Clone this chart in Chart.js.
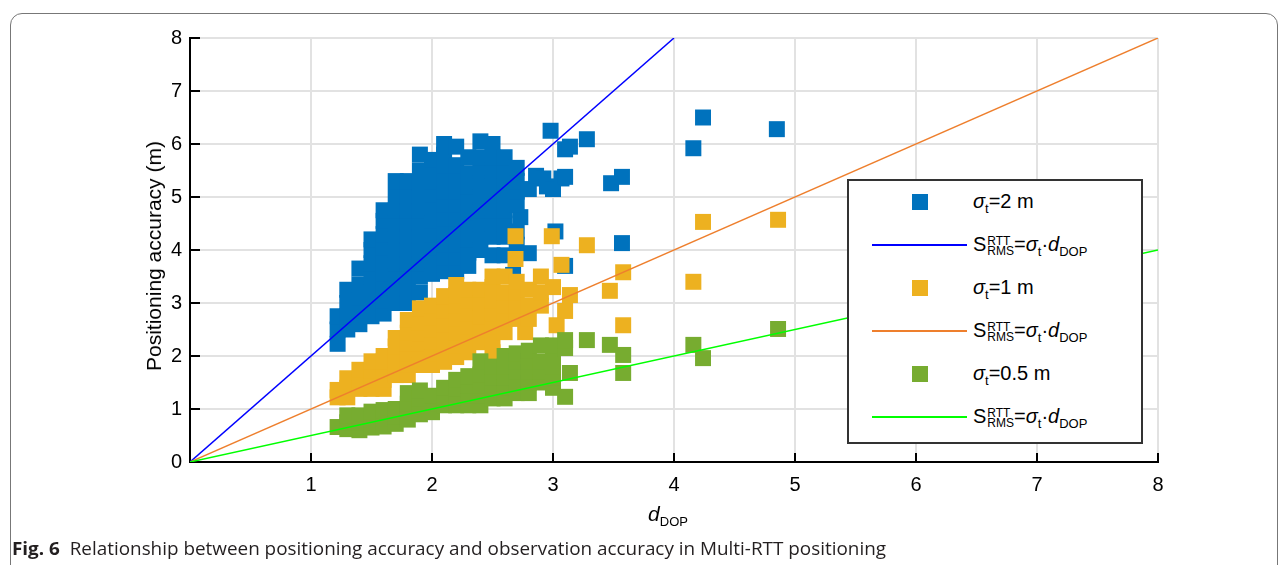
<!DOCTYPE html>
<html>
<head>
<meta charset="utf-8">
<script src="https://cdn.jsdelivr.net/npm/chart.js@4.4.1/dist/chart.umd.min.js"></script>
<style>
  html, body { margin: 0; padding: 0; background: #fff; }
  #page { position: relative; width: 1287px; height: 565px; overflow: hidden; font-family: "Liberation Sans", Arial, sans-serif; color: #000; }
  #frame { position: absolute; left: 10px; top: 13px; width: 1268px; height: 700px; border: 1.5px solid #777; border-radius: 12px; box-sizing: border-box; }
  #c { position: absolute; left: 0; top: 0; }
  .sub { font-size: 13px; vertical-align: -5px; font-style: normal; }
  .stack { display: inline-block; font-size: 12px; line-height: 10px; vertical-align: -4px; margin-left: 1px; }
  .stack span { display: block; }
  #legend { position: absolute; left: 847px; top: 179px; width: 296px; height: 265px; border: 2px solid #333; box-sizing: border-box; background: #fff; }
  #legend .mk { position: absolute; left: 63px; width: 16px; height: 16px; }
  #legend .ln { position: absolute; left: 23px; width: 95px; height: 2px; }
  #legend .lbl { position: absolute; left: 124px; font-size: 20px; line-height: 1; white-space: nowrap; }
  #ytitle { position: absolute; left: 154px; top: 256px; transform: translate(-50%, -50%) rotate(-90deg); font-size: 21px; white-space: nowrap; }
  #xtitle { position: absolute; left: 668px; top: 515px; transform: translate(-50%, -50%); font-size: 21px; white-space: nowrap; line-height: 1; }
  #caption { position: absolute; left: 12px; top: 549px; transform-origin: 0 50%; font-family: "Open Sans", sans-serif; font-size: 17.5px; white-space: nowrap; color: #231f20; line-height: 1; }
  #caption b { font-weight: 700; }
</style>
</head>
<body>
<div id="page">
  <div id="frame"></div>
  <canvas id="c" width="1287" height="565"></canvas>
  <div id="ytitle">Positioning accuracy (m)</div>
  <div id="xtitle"><i>d</i><span class="sub">DOP</span></div>
  <div id="legend"></div>
  <div id="caption"><b>Fig. 6</b>&nbsp;&nbsp;Relationship between positioning accuracy and observation accuracy in Multi-RTT positioning</div>
</div>
<script>
// measured positioning error vs. d_DOP, one cloud per ranging noise level
const sigmaLabels = ['2', '1', '0.5'];

const sigma2 = [
  [1.22,2.23],[1.22,2.5],[1.22,2.75],
  [1.3,2.5],[1.3,2.75],[1.3,3.0],[1.3,3.25],
  [1.4,2.6],[1.4,2.85],[1.4,3.1],[1.4,3.35],[1.4,3.65],
  [1.5,2.75],[1.5,3.0],[1.5,3.25],[1.5,3.5],[1.5,3.75],[1.5,4.0],[1.5,4.2],
  [1.6,2.8],[1.6,3.05],[1.6,3.3],[1.6,3.55],[1.6,3.8],[1.6,4.05],[1.6,4.3],[1.6,4.55],[1.6,4.75],
  [1.7,3.0],[1.7,3.25],[1.7,3.5],[1.7,3.75],[1.7,4.0],[1.7,4.25],[1.7,4.5],[1.7,4.75],[1.7,5.0],[1.7,5.3],
  [1.8,3.0],[1.8,3.25],[1.8,3.5],[1.8,3.75],[1.8,4.0],[1.8,4.25],[1.8,4.5],[1.8,4.75],[1.8,5.0],[1.8,5.3],
  [1.9,3.2],[1.9,3.5],[1.9,3.75],[1.9,4.0],[1.9,4.25],[1.9,4.5],[1.9,4.75],[1.9,5.0],[1.9,5.25],[1.9,5.5],[1.9,5.8],
  [2.0,3.55],[2.0,3.8],[2.0,4.05],[2.0,4.3],[2.0,4.55],[2.0,4.8],[2.0,5.05],[2.0,5.3],[2.0,5.5],[2.0,5.7],
  [2.1,3.6],[2.1,3.85],[2.1,4.1],[2.1,4.35],[2.1,4.6],[2.1,4.85],[2.1,5.1],[2.1,5.35],[2.1,5.6],[2.1,5.8],[2.1,6.0],
  [2.2,3.6],[2.2,3.85],[2.2,4.1],[2.2,4.35],[2.2,4.6],[2.2,4.85],[2.2,5.1],[2.2,5.35],[2.2,5.6],[2.2,5.95],
  [2.3,3.7],[2.3,3.95],[2.3,4.2],[2.3,4.45],[2.3,4.7],[2.3,4.95],[2.3,5.2],[2.3,5.45],[2.3,5.75],
  [2.4,4.0],[2.4,4.25],[2.4,4.5],[2.4,4.75],[2.4,5.0],[2.4,5.25],[2.4,5.5],[2.4,5.75],[2.4,6.05],
  [2.5,3.9],[2.5,4.25],[2.5,4.5],[2.5,4.75],[2.5,5.0],[2.5,5.25],[2.5,5.5],[2.5,5.75],[2.5,6.0],
  [2.6,3.9],[2.6,4.25],[2.6,4.5],[2.6,4.75],[2.6,5.0],[2.6,5.25],[2.6,5.5],[2.6,5.75],
  [2.67,3.53],[2.7,4.1],[2.7,4.35],[2.73,4.62],[2.7,4.85],[2.7,5.1],[2.7,5.3],[2.7,5.55],
  [2.8,3.94],[2.8,5.15],[2.86,5.4],[2.92,5.35],[2.95,5.2],[3.0,5.15],[3.07,5.35],[3.1,5.38],
  [3.02,4.35],[2.98,6.25],[3.1,5.9],[3.14,5.95],[3.28,6.09],[3.1,3.7],
  [3.48,5.26],[3.57,5.38],[3.57,4.13],[4.16,5.92],[4.24,6.5],[4.85,6.28]
];

const sigma1 = [
  [1.22,1.22],[1.22,1.36],
  [1.3,1.22],[1.3,1.4],[1.3,1.58],
  [1.4,1.38],[1.4,1.55],[1.4,1.74],
  [1.5,1.38],[1.5,1.55],[1.5,1.72],[1.5,1.9],
  [1.6,1.38],[1.6,1.55],[1.6,1.72],[1.6,1.9],[1.6,2.0],
  [1.7,1.64],[1.7,1.82],[1.7,2.0],[1.7,2.18],[1.7,2.34],
  [1.8,1.64],[1.8,1.84],[1.8,2.04],[1.8,2.24],[1.8,2.44],[1.8,2.68],
  [1.9,1.83],[1.9,2.03],[1.9,2.23],[1.9,2.43],[1.9,2.63],[1.9,2.9],
  [2.0,1.83],[2.0,2.05],[2.0,2.27],[2.0,2.5],[2.0,2.72],[2.0,2.95],
  [2.1,1.89],[2.1,2.1],[2.1,2.35],[2.1,2.6],[2.1,2.85],[2.1,3.13],
  [2.2,1.98],[2.2,2.2],[2.2,2.45],[2.2,2.7],[2.2,2.95],[2.2,3.15],[2.2,3.34],
  [2.3,2.07],[2.3,2.3],[2.3,2.55],[2.3,2.8],[2.3,3.05],[2.3,3.25],
  [2.4,2.26],[2.4,2.5],[2.4,2.75],[2.4,3.0],[2.4,3.25],
  [2.5,2.07],[2.5,2.3],[2.5,2.55],[2.5,2.8],[2.5,3.05],[2.5,3.3],[2.5,3.5],
  [2.6,2.45],[2.6,2.7],[2.6,2.95],[2.6,3.2],[2.6,3.5],
  [2.7,2.7],[2.7,2.95],[2.7,3.2],[2.7,3.4],[2.69,3.83],[2.69,4.26],[2.77,2.45],
  [2.8,2.7],[2.8,2.95],[2.8,3.25],
  [2.9,2.95],[2.9,3.2],[2.9,3.5],
  [3.03,2.58],[3.0,3.3],[3.07,3.72],[2.99,4.26],
  [3.1,2.85],[3.14,3.15],
  [3.28,4.09],[3.58,3.58],[3.47,3.23],[4.16,3.4],[3.58,2.58],[4.24,4.53],[4.86,4.57]
];

const sigma05 = [
  [1.22,0.66],
  [1.3,0.62],[1.3,0.75],[1.3,0.88],
  [1.4,0.6],[1.4,0.75],[1.4,0.88],
  [1.5,0.65],[1.5,0.8],[1.5,0.95],
  [1.6,0.67],[1.6,0.82],[1.6,0.98],
  [1.7,0.72],[1.7,0.86],[1.7,1.0],
  [1.8,0.8],[1.8,0.95],[1.8,1.1],[1.8,1.3],
  [1.9,0.9],[1.9,1.05],[1.9,1.2],[1.9,1.35],
  [2.0,0.94],[2.0,1.1],[2.0,1.25],
  [2.1,1.07],[2.1,1.22],[2.1,1.4],
  [2.2,1.07],[2.2,1.22],[2.2,1.38],[2.2,1.55],
  [2.3,1.07],[2.3,1.25],[2.3,1.45],[2.3,1.62],
  [2.4,1.07],[2.4,1.25],[2.4,1.45],[2.4,1.65],[2.4,1.9],
  [2.5,1.2],[2.5,1.4],[2.5,1.6],[2.5,1.8],
  [2.6,1.2],[2.6,1.4],[2.6,1.6],[2.6,1.8],[2.6,2.0],
  [2.7,1.3],[2.7,1.5],[2.7,1.7],[2.7,1.9],[2.7,2.05],
  [2.8,1.3],[2.8,1.5],[2.8,1.7],[2.8,1.9],[2.8,2.1],
  [2.9,1.5],[2.9,1.7],[2.9,1.9],[2.9,2.2],
  [3.0,1.4],[3.0,1.6],[3.0,1.8],[3.0,2.0],[3.0,2.2],
  [3.1,1.23],[3.14,1.68],[3.1,2.15],[3.1,2.3],
  [3.28,2.3],[3.47,2.21],[3.58,2.02],[3.58,1.68],[4.16,2.21],[4.24,1.96],[4.86,2.51]
];

// S = sigma * d_DOP reference lines (end points)
const line2 = [[0,0],[4,8]];
const line1 = [[0,0],[8,8]];
const line05 = [[0,0],[8,4]];

const xTicks = [0,1,2,3,4,5,6,7,8];
const yTicks = [0,1,2,3,4,5,6,7,8];

const markerColors = ['#0072BD', '#EDB120', '#77AC30'];
const lineColors = ['#0000FF', '#EE7F2D', '#00FF00'];

function pts(arr) { return arr.map(p => ({ x: p[0], y: p[1] })); }

function scatterSet(arr, color, order) {
  return {
    type: 'scatter', data: pts(arr), order,
    pointStyle: 'rect', pointRadius: 11.3, pointHoverRadius: 11.3,
    backgroundColor: color, borderWidth: 0, pointBorderWidth: 0
  };
}
function lineSet(arr, color, order) {
  return {
    type: 'scatter', data: pts(arr), order, showLine: true,
    borderColor: color, borderWidth: 1.5, pointRadius: 0, fill: false
  };
}

// tick marks point inward, like the plotting tool that made the figure
const insideTicks = {
  id: 'insideTicks',
  afterDraw(chart) {
    const { ctx, scales: { x, y } } = chart;
    ctx.save();
    ctx.strokeStyle = '#000';
    ctx.lineWidth = 2;
    xTicks.forEach(v => {
      if (v === 0) return;
      const px = Math.round(x.getPixelForValue(v));
      ctx.beginPath(); ctx.moveTo(px, y.bottom); ctx.lineTo(px, y.bottom - 9); ctx.stroke();
    });
    yTicks.forEach(v => {
      if (v === 0) return;
      const py = Math.round(y.getPixelForValue(v));
      ctx.beginPath(); ctx.moveTo(x.left, py); ctx.lineTo(x.left + 10, py); ctx.stroke();
    });
    ctx.restore();
  }
};

const tickFont = { family: '"Liberation Sans", Arial, sans-serif', size: 20 };

new Chart(document.getElementById('c'), {
  type: 'scatter',
  data: {
    datasets: [
      scatterSet(sigma2, markerColors[0], 6),
      lineSet(line2, lineColors[0], 5),
      scatterSet(sigma1, markerColors[1], 4),
      lineSet(line1, lineColors[1], 3),
      scatterSet(sigma05, markerColors[2], 2),
      lineSet(line05, lineColors[2], 1)
    ]
  },
  options: {
    responsive: false,
    animation: false,
    devicePixelRatio: 1,
    layout: { padding: { top: 38, right: 129, left: 0, bottom: 0 } },
    plugins: { legend: { display: false }, tooltip: { enabled: false } },
    scales: {
      x: {
        type: 'linear', min: 0, max: 8,
        afterBuildTicks: s => { s.ticks = xTicks.map(v => ({ value: v })); },
        afterFit: s => { s.height = 103; },
        ticks: { color: '#000', font: tickFont, padding: 11, maxRotation: 0,
                 callback: v => (v === 0 ? '' : String(v)) },
        grid: { color: '#e2e2e2', lineWidth: 2, drawTicks: false },
        border: { color: '#000', width: 2 }
      },
      y: {
        type: 'linear', min: 0, max: 8,
        afterBuildTicks: s => { s.ticks = yTicks.map(v => ({ value: v })); },
        afterFit: s => { s.width = 190; },
        ticks: { color: '#000', font: tickFont, padding: 8 },
        grid: { color: '#e2e2e2', lineWidth: 2, drawTicks: false },
        border: { color: '#000', width: 2 }
      }
    }
  },
  plugins: [insideTicks]
});

// legend: marker row then reference-line row for each sigma
(function buildLegend() {
  const box = document.getElementById('legend');
  const rowY = [23, 66, 109, 152, 195, 238];
  const formula = 'S<span class="stack"><span>RTT</span><span>RMS</span></span>=<i>σ</i><span class="sub">t</span>·<i>d</i><span class="sub">DOP</span>';
  let html = '';
  sigmaLabels.forEach((s, i) => {
    const ym = rowY[i * 2] - 2, yl = rowY[i * 2 + 1] - 2;
    html += `<div class="mk" style="top:${ym - 8}px;background:${markerColors[i]}"></div>`;
    html += `<div class="lbl" style="top:${ym - 11}px"><i>σ</i><span class="sub">t</span>=${s} m</div>`;
    html += `<div class="ln" style="top:${yl - 1}px;background:${lineColors[i]}"></div>`;
    html += `<div class="lbl" style="top:${yl - 11}px">${formula}</div>`;
  });
  box.innerHTML = html;
})();

// squeeze the caption to its printed width
(function fitCaption() {
  const cap = document.getElementById('caption');
  const w = cap.getBoundingClientRect().width;
  cap.style.transform = `translateY(-50%) scaleX(${874 / w})`;
})();
</script>
</body>
</html>
